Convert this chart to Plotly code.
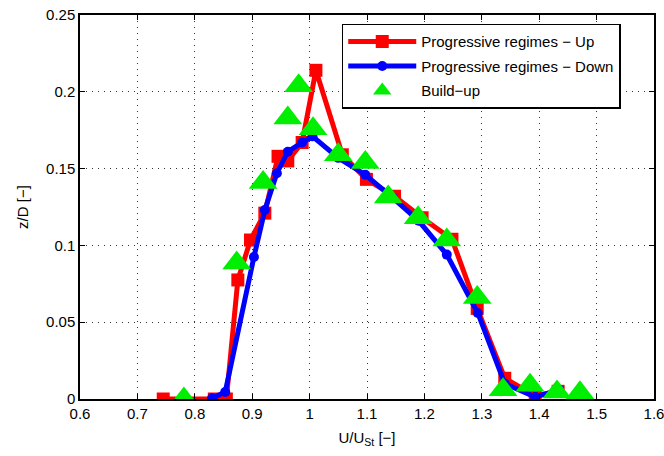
import plotly.graph_objects as go

# Progressive regimes - Up
up_x = [0.745, 0.834, 0.855, 0.875, 0.897, 0.922, 0.945, 0.962, 0.987, 1.011, 1.057, 1.099, 1.148, 1.196, 1.248, 1.292, 1.340, 1.393, 1.433]
up_z = [0.0, 0.0, 0.0, 0.0775, 0.1035, 0.121, 0.158, 0.155, 0.167, 0.214, 0.159, 0.143, 0.132, 0.118, 0.104, 0.059, 0.0135, 0.002, 0.005]

# Progressive regimes - Down
down_x = [0.83, 0.853, 0.903, 0.922, 0.943, 0.962, 0.987, 1.005, 1.05, 1.097, 1.145, 1.19, 1.239, 1.293, 1.34, 1.393, 1.435]
down_z = [0.0005, 0.0046, 0.0925, 0.123, 0.147, 0.161, 0.167, 0.171, 0.157, 0.146, 0.131, 0.116, 0.094, 0.056, 0.010, 0.0013, 0.006]

# Build-up
build_x = [0.781, 0.873, 0.919, 0.962, 0.981, 1.006, 1.05, 1.097, 1.137, 1.189, 1.239, 1.292, 1.337, 1.384, 1.431, 1.471]
build_z = [0.0, 0.0885, 0.141, 0.183, 0.204, 0.176, 0.159, 0.154, 0.1315, 0.118, 0.1035, 0.066, 0.006, 0.009, 0.0046, 0.004]

x_ticks = [0.6, 0.7, 0.8, 0.9, 1.0, 1.1, 1.2, 1.3, 1.4, 1.5, 1.6]
x_labels = ["0.6", "0.7", "0.8", "0.9", "1", "1.1", "1.2", "1.3", "1.4", "1.5", "1.6"]
y_ticks = [0, 0.05, 0.1, 0.15, 0.2, 0.25]
y_labels = ["0", "0.05", "0.1", "0.15", "0.2", "0.25"]

FONT = "Liberation Sans, Arial, sans-serif"

fig = go.Figure()
fig.add_trace(go.Scatter(x=up_x, y=up_z, mode="lines+markers", name="Progressive regimes − Up",
                         legendgroup="a",
                         line=dict(color="#ff0000", width=5),
                         marker=dict(symbol="square", size=13, color="#ff0000")))
fig.add_trace(go.Scatter(x=down_x, y=down_z, mode="lines+markers", name="Progressive regimes − Down",
                         legendgroup="b",
                         line=dict(color="#0000ff", width=5),
                         marker=dict(symbol="circle", size=10, color="#0000ff")))
fig.add_trace(go.Scatter(x=build_x, y=build_z, mode="markers", name="Build−up",
                         legendgroup="c",
                         marker=dict(symbol="triangle-up", size=25, color="#00ee00")))

axis_common = dict(
    showline=True, linecolor="black", linewidth=1.5, mirror="ticks",
    ticks="inside", ticklen=5, tickcolor="black",
    showgrid=True, gridcolor="#333333", gridwidth=1, griddash="1px,5px",
    zeroline=False, automargin=False, ticklabeloverflow="allow",
    tickfont=dict(family=FONT, size=15, color="black"),
)

fig.update_xaxes(range=[0.6, 1.6], tickvals=x_ticks, ticktext=x_labels,
                 title=dict(text="U/U<sub>St</sub> [−]", font=dict(family=FONT, size=15, color="black"), standoff=12),
                 **axis_common)
fig.update_yaxes(range=[0, 0.25], tickvals=y_ticks, ticktext=y_labels,
                 title=dict(text="z/D [−]", font=dict(family=FONT, size=15, color="black"), standoff=14),
                 **axis_common)

fig.update_layout(
    width=664, height=456,
    margin=dict(l=80, r=10, t=15, b=57),
    plot_bgcolor="white", paper_bgcolor="white",
    font=dict(family=FONT, size=15, color="black"),
    legend=dict(x=0.456, y=0.977, xanchor="left", yanchor="top",
                bordercolor="black", borderwidth=1.5, bgcolor="white",
                font=dict(family=FONT, size=15), tracegroupgap=2,
                itemwidth=68, entrywidth=314),
)

fig.write_html("out.html")
